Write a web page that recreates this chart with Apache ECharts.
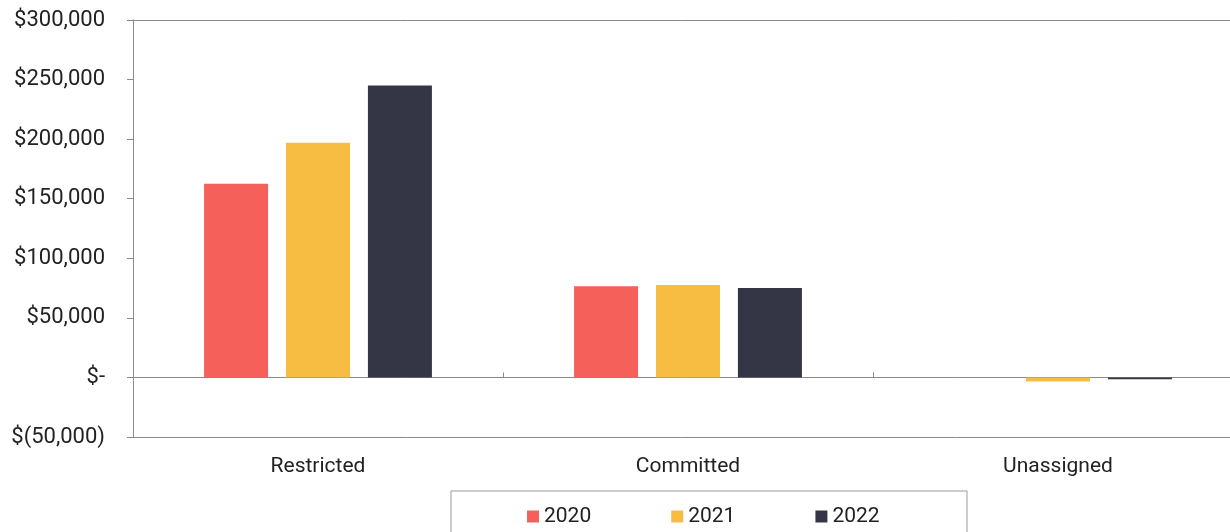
<!DOCTYPE html>
<html>
<head>
<meta charset="utf-8">
<script src="https://cdn.jsdelivr.net/npm/echarts@6/dist/echarts.min.js"></script>
<style>
  html, body { margin: 0; padding: 0; background: #fff; }
  #chart { width: 1230px; height: 532px; }
</style>
</head>
<body>
<div id="chart"></div>
<script>
const categories = ['Restricted', 'Committed', 'Unassigned'];
const years = ['2020', '2021', '2022'];
const values2020 = [162500, 76500, 0];
const values2021 = [197000, 77500, -3500];
const values2022 = [245000, 75000, -1500];
const colors = ['#F5605A', '#F7BD42', '#343646'];

const chart = echarts.init(document.getElementById('chart'));

// accounting style: $-  /  $(50,000)
const money = v => {
    if (v === 0) return '$-';
    const s = Math.abs(v).toLocaleString('en-US');
    return v < 0 ? '$(' + s + ')' : '$' + s;
};

const lineStyle = {color: '#8a8a8a', width: 1};

const makeSeries = (name, data, i) => ({
    name: name,
    type: 'bar',
    barWidth: 64,
    barGap: '28%',
    itemStyle: {color: colors[i]},
    data: data
});

chart.setOption({
    textStyle: {fontFamily: 'Roboto'},
    animation: false,
    grid: {left: 133, width: 1110, top: 20, height: 417, outerBoundsMode: 'none', containLabel: false},
    legend: {
        data: years,
        top: 501,
        left: 522,
        itemWidth: 12,
        itemHeight: 12,
        itemGap: 80,
        icon: 'rect',
        textStyle: {fontSize: 21, color: '#222', fontFamily: 'Roboto'}
    },
    graphic: [{
        type: 'rect',
        shape: {x: 451, y: 491, width: 516, height: 45},
        style: {fill: 'none', stroke: '#9a9a9a', lineWidth: 1}
    }],
    xAxis: [
        {
            type: 'category',
            data: categories,
            position: 'bottom',
            axisLine: {onZero: false, lineStyle: lineStyle},
            axisTick: {show: false},
            axisLabel: {fontSize: 21, color: '#222', margin: 19}
        },
        {
            type: 'category',
            data: categories,
            axisLine: {onZero: true, lineStyle: lineStyle},
            axisTick: {show: true, length: 5, lineStyle: lineStyle},
            axisLabel: {show: false}
        },
        {
            type: 'category',
            data: categories,
            position: 'top',
            axisLine: {onZero: false, lineStyle: lineStyle},
            axisTick: {show: false},
            axisLabel: {show: false}
        }
    ],
    yAxis: {
        type: 'value',
        min: -50000,
        max: 300000,
        interval: 50000,
        axisLine: {show: true, lineStyle: lineStyle},
        axisTick: {show: true, length: 6, lineStyle: lineStyle},
        splitLine: {show: false},
        axisLabel: {fontSize: 22, color: '#222', margin: 28, formatter: money}
    },
    series: [
        makeSeries(years[0], values2020, 0),
        makeSeries(years[1], values2021, 1),
        makeSeries(years[2], values2022, 2)
    ]
});
</script>
</body>
</html>
